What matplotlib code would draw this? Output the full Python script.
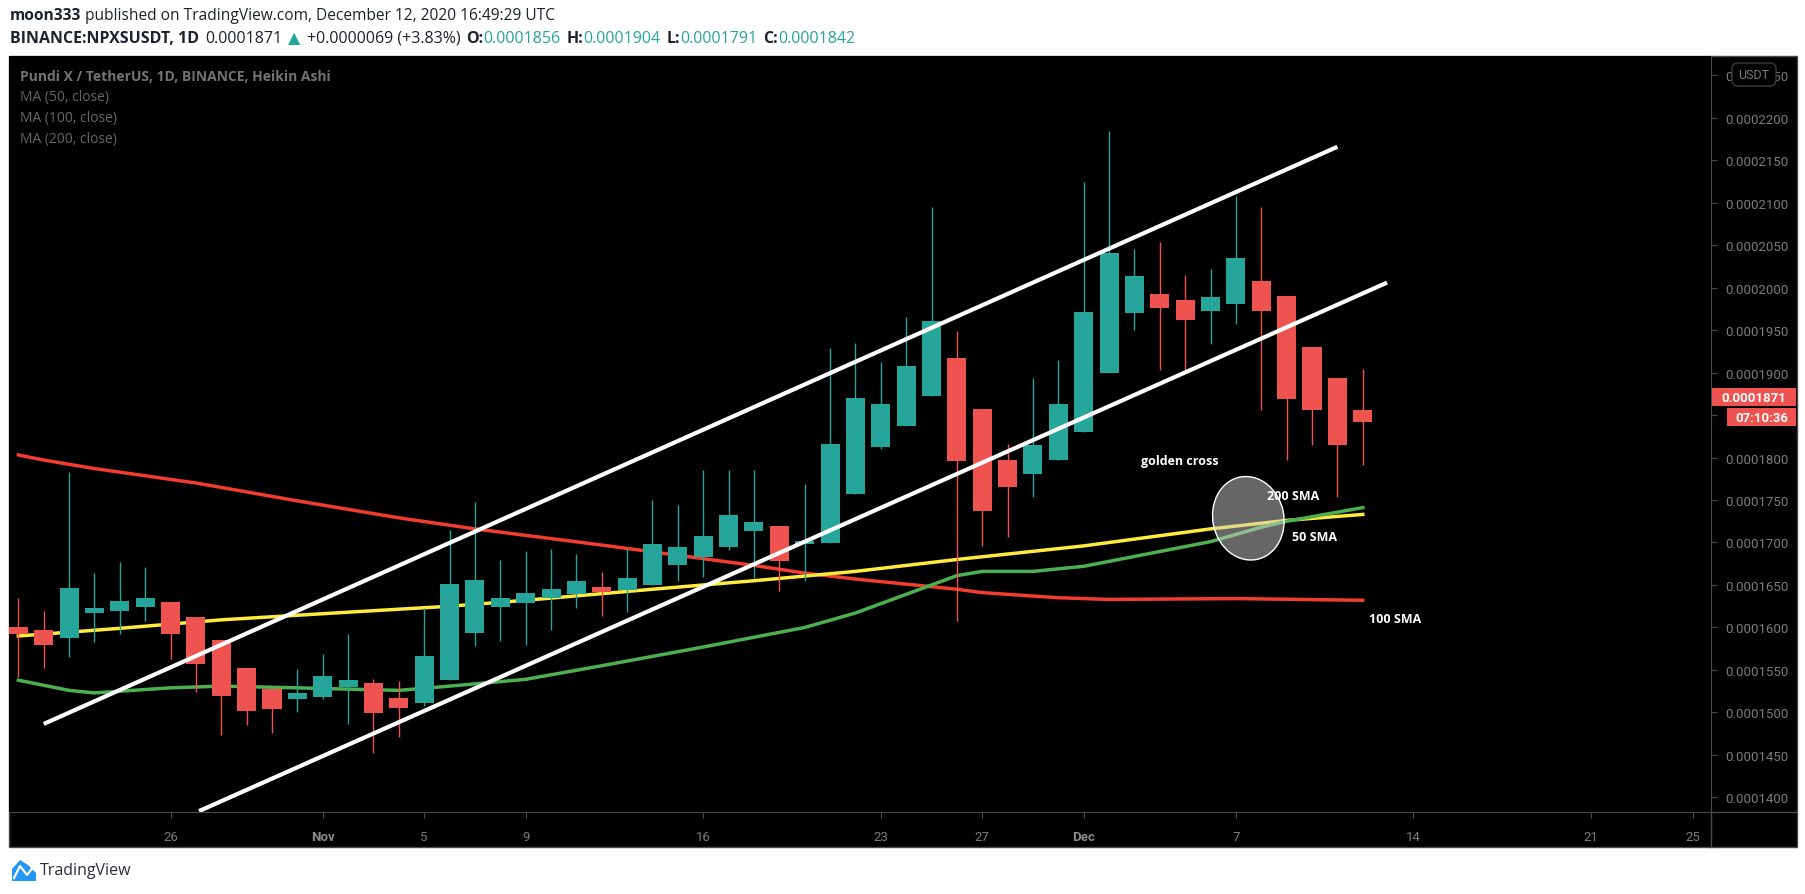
import numpy as np
import pandas as pd
import matplotlib
matplotlib.use('Agg')
import matplotlib.pyplot as plt
import matplotlib.dates as mdates
from matplotlib.patches import Rectangle, Ellipse, FancyBboxPatch, Polygon
from matplotlib.transforms import IdentityTransform, ScaledTranslation
from matplotlib.lines import Line2D

# prices are in units of 1e-7 USDT
SCALE = 1e-7

dates = pd.date_range('2020-10-20', '2020-12-12', freq='D')
opens = [1600.6, 1597.0, 1588.0, 1617.4, 1619.8, 1624.5, 1630.0, 1612.3, 1585.3, 1552.3, 1528.0, 1516.3,
         1518.6, 1530.4, 1534.7, 1517.0, 1511.6, 1538.6, 1593.9, 1624.5, 1629.2, 1634.7, 1639.8, 1647.6,
         1644.1, 1650.4, 1673.9, 1683.3, 1695.1, 1713.9, 1719.4, 1698.6, 1699.8, 1757.4, 1812.7, 1837.4,
         1872.7, 1917.0, 1857.0, 1797.0, 1781.0, 1797.4, 1830.4, 1899.7, 1970.3, 1992.3, 1985.2, 1972.7,
         1980.9, 2007.6, 1990.0, 1929.9, 1893.5, 1856.0]
highs = [1634.7, 1619.4, 1782.9, 1664.1, 1677.1, 1671.2, 1630.0, 1612.3, 1585.3, 1552.3, 1528.0, 1551.2,
         1568.8, 1592.3, 1539.4, 1537.0, 1622.9, 1714.7, 1747.6, 1679.4, 1690.0, 1692.3, 1686.5, 1665.3,
         1692.3, 1750.0, 1744.1, 1785.3, 1785.3, 1785.3, 1719.4, 1768.8, 1928.8, 1934.7, 1912.3, 1965.3,
         2094.7, 1948.8, 1857.0, 1815.9, 1893.5, 1914.7, 2124.1, 2184.1, 2045.2, 2053.5, 2014.7, 2021.7,
         2107.6, 2094.7, 1990.0, 1929.9, 1893.5, 1904.0]
lows = [1542.1, 1552.7, 1565.7, 1583.3, 1592.7, 1608.0, 1563.3, 1524.5, 1473.9, 1485.7, 1476.3, 1501.0,
        1516.3, 1486.8, 1452.7, 1471.6, 1508.0, 1538.6, 1578.6, 1584.5, 1579.8, 1597.4, 1623.3, 1613.9,
        1618.6, 1650.4, 1655.1, 1659.8, 1691.6, 1658.2, 1643.3, 1655.1, 1699.8, 1757.4, 1810.4, 1837.4,
        1872.7, 1608.0, 1696.2, 1706.8, 1753.9, 1797.4, 1830.4, 1899.7, 1950.3, 1903.3, 1902.9, 1933.9,
        1957.4, 1856.2, 1797.4, 1815.0, 1753.9, 1791.0]
closes = [1592.7, 1579.8, 1646.5, 1622.9, 1631.2, 1634.7, 1592.7, 1557.4, 1519.8, 1502.1, 1504.5, 1522.9,
          1542.9, 1538.2, 1499.8, 1505.7, 1566.5, 1651.2, 1655.9, 1634.7, 1640.6, 1645.3, 1654.7, 1642.1,
          1658.2, 1698.2, 1694.7, 1707.6, 1732.3, 1724.1, 1678.6, 1701.8, 1815.9, 1870.0, 1862.9, 1907.6,
          1960.6, 1796.2, 1737.4, 1765.6, 1814.7, 1862.9, 1971.2, 2040.5, 2013.5, 1976.2, 1962.1, 1988.8,
          2034.7, 1972.7, 1869.2, 1856.2, 1815.0, 1842.0]

# moving averages
ma100_dates = ['2020-10-20', '2020-10-21', '2020-10-23', '2020-10-27', '2020-10-31', '2020-11-04',
               '2020-11-07', '2020-11-12', '2020-11-14', '2020-11-18', '2020-11-20', '2020-11-22',
               '2020-11-26', '2020-11-27', '2020-11-30', '2020-12-02', '2020-12-07', '2020-12-12']
ma100 = [1803, 1797, 1787, 1770, 1749, 1729, 1716, 1697, 1689, 1673, 1664, 1657, 1645, 1641, 1635,
         1633, 1634, 1632]
ma200_dates = ['2020-10-20', '2020-10-24', '2020-10-28', '2020-11-02', '2020-11-06', '2020-11-09',
               '2020-11-14', '2020-11-18', '2020-11-22', '2020-11-26', '2020-12-01', '2020-12-06',
               '2020-12-09', '2020-12-12']
ma200 = [1590, 1599, 1609, 1618, 1625, 1632, 1645, 1655, 1666, 1680, 1696, 1716, 1726, 1733]
ma50_dates = ['2020-10-20', '2020-10-21', '2020-10-22', '2020-10-23', '2020-10-26', '2020-10-28',
              '2020-10-31', '2020-11-04', '2020-11-06', '2020-11-09', '2020-11-12', '2020-11-16',
              '2020-11-20', '2020-11-22', '2020-11-24', '2020-11-26', '2020-11-27', '2020-11-29',
              '2020-12-01', '2020-12-06', '2020-12-08', '2020-12-09', '2020-12-12']
ma50 = [1538, 1532, 1526, 1523, 1529, 1531, 1529, 1526, 1531, 1539, 1555, 1577, 1600, 1617, 1639,
        1661, 1666, 1666, 1672, 1701, 1718, 1725, 1741]

# channel lines drawn by the author
upper_line = (['2020-10-21 00:00', '2020-12-11 00:00'], [1486.5, 2165.6])
lower_line = (['2020-10-27 03:00', '2020-12-12 23:00'], [1384.0, 2005.8])

tick_dates = ['2020-10-26', '2020-11-01', '2020-11-05', '2020-11-09', '2020-11-16', '2020-11-23',
              '2020-11-27', '2020-12-01', '2020-12-07', '2020-12-14', '2020-12-21', '2020-12-25']
tick_labels = ['26', 'Nov', '5', '9', '16', '23', '27', 'Dec', '7', '14', '21', '25']
price_ticks = np.arange(1400, 2251, 50)
last_price = 1871

W, H = 1805, 895
fig = plt.figure(figsize=(W / 100, H / 100), dpi=100)
fig.patch.set_facecolor('white')
PX = IdentityTransform()

GREEN = '#26a69a'
RED = '#ef5350'
GRID = '#4a4a4a'
LABEL = '#7b7b7b'

# black chart frame
fig.add_artist(Rectangle((8.5, H - 848), 1796.5 - 8.5, 848 - 57, transform=PX,
                         facecolor='black', edgecolor=GRID, lw=1, zorder=-1))

ax = fig.add_axes([9 / W, (H - 813) / H, (1711 - 9) / W, (813 - 57) / H])
ax.set_facecolor('black')
for s in ['top', 'left']:
    ax.spines[s].set_visible(False)
ax.spines['right'].set_color(GRID)
ax.spines['bottom'].set_color(GRID)
fig.add_artist(Line2D([1711, 1796], [H - 813, H - 813], transform=PX, color=GRID, lw=1))
fig.add_artist(Line2D([1711, 1711], [H - 813, H - 848], transform=PX, color=GRID, lw=1))

dn = mdates.date2num(dates)
o = np.array(opens) * SCALE
c = np.array(closes) * SCALE
hi = np.array(highs) * SCALE
lo = np.array(lows) * SCALE
cols = [GREEN if cc >= oo else RED for oo, cc in zip(o, c)]

ax.vlines(dn, lo, hi, colors=cols, lw=1, zorder=2)
ax.bar(dn, np.abs(c - o), bottom=np.minimum(o, c), width=0.75, color=cols, zorder=3)

ax.plot(mdates.date2num(pd.to_datetime(ma100_dates)), np.array(ma100) * SCALE, color='#f23c30', lw=2.5, zorder=1.5)
ax.plot(mdates.date2num(pd.to_datetime(ma200_dates)), np.array(ma200) * SCALE, color='#ffeb3b', lw=2.5, zorder=1.5)
ax.plot(mdates.date2num(pd.to_datetime(ma50_dates)), np.array(ma50) * SCALE, color='#4caf50', lw=2.5, zorder=1.6)

for xs, ys in [upper_line, lower_line]:
    ax.plot(mdates.date2num(pd.to_datetime(xs)), np.array(ys) * SCALE, color='white', lw=3,
            solid_capstyle='butt', zorder=4)

# golden cross ellipse, sized in pixels around a data point
ex, ey = mdates.date2num(pd.Timestamp('2020-12-07 11:45')), 1728.5 * SCALE
etr = fig.dpi_scale_trans + ScaledTranslation(ex, ey, ax.transData)
ax.add_patch(Ellipse((0, 0), 0.71, 0.84, angle=12, transform=etr, facecolor='#cccccc',
                     alpha=0.5, edgecolor='none', zorder=5))
ax.add_patch(Ellipse((0, 0), 0.71, 0.84, angle=12, transform=etr, facecolor='none',
                     edgecolor='white', lw=1, zorder=5))

notes = [('golden cross', '2020-12-04 19:00', 1797), ('200 SMA', '2020-12-09 06:00', 1755),
         ('50 SMA', '2020-12-10 02:00', 1706.5), ('100 SMA', '2020-12-13 06:30', 1611)]
for txt, d, p in notes:
    ax.text(mdates.date2num(pd.Timestamp(d)), p * SCALE, txt, color='white', fontsize=9,
            fontweight='bold', family='Open Sans', ha='center', va='center', zorder=6)

x0 = mdates.date2num(pd.Timestamp('2020-10-19 15:10'))
x1 = mdates.date2num(pd.Timestamp('2020-12-25 17:30'))
ax.set_xlim(x0, x1)
ax.set_ylim(1382.9 * SCALE, 2272.4 * SCALE)

ax.yaxis.tick_right()
ax.set_yticks(price_ticks * SCALE)
ax.set_yticklabels(['%.7f' % (v * SCALE) for v in price_ticks])
ax.tick_params(axis='y', direction='out', length=4, pad=6, colors=GRID, labelcolor=LABEL,
               labelsize=9.5)
ax.set_xticks(mdates.date2num(pd.to_datetime(tick_dates)))
ax.set_xticklabels(tick_labels)
ax.tick_params(axis='x', direction='out', length=4, pad=9, colors=GRID, labelcolor=LABEL,
               labelsize=9.5)
for t in ax.get_xticklabels() + ax.get_yticklabels():
    t.set_family('Roboto')
for t in ax.get_xticklabels():
    if t.get_text() in ('Nov', 'Dec'):
        t.set_fontweight('bold')
        t.set_color('#8a8a8a')

# price axis badges
yp = ax.transData.transform((x0, last_price * SCALE))[1]
fig.add_artist(Rectangle((1712, yp - 9), 84, 18, transform=PX, facecolor=RED, edgecolor='none', zorder=4))
fig.text(1754, yp, '%.7f' % (last_price * SCALE), transform=PX, color='white', fontsize=9.5,
         fontweight='bold', family='Roboto', ha='center', va='center', zorder=5)
fig.add_artist(Rectangle((1727, yp - 29), 69, 18, transform=PX, facecolor=RED, edgecolor='none', zorder=4))
fig.text(1761.5, yp - 20, '07:10:36', transform=PX, color='white', fontsize=9.5,
         fontweight='bold', family='Roboto', ha='center', va='center', zorder=5)
fig.add_artist(FancyBboxPatch((1732, H - 87), 44, 23, boxstyle='round,pad=0,rounding_size=6',
                              transform=PX, facecolor='black', edgecolor='#3c3c3c', lw=1, zorder=4))
fig.text(1754, H - 75.5, 'USDT', transform=PX, color=LABEL, fontsize=9, family='Roboto',
         ha='center', va='center', zorder=5)

# legend in the pane
fig.text(20, H - 77, 'Pundi X / TetherUS, 1D, BINANCE, Heikin Ashi', transform=PX, color='#737373',
         fontsize=10, fontweight='bold', family='Open Sans', va='center')
for i, s in enumerate(['MA (50, close)', 'MA (100, close)', 'MA (200, close)']):
    fig.text(20, H - 98 - 20.7 * i, s, transform=PX, color='#666666', fontsize=10,
             family='Open Sans', va='center')

# header
renderer = fig.canvas.get_renderer()
FAM = ['Open Sans', 'DejaVu Sans']


def runs(x, y, parts, size, extra=0):
    probe = fig.text(0, 0, 'x x', fontsize=size, family=FAM, transform=PX)
    w2 = probe.get_window_extent(renderer).width
    probe.set_text('xx')
    sw = w2 - probe.get_window_extent(renderer).width + extra
    probe.remove()
    for s, color, weight, gap in parts:
        t = fig.text(x, y, s, transform=PX, fontsize=size, color=color, fontweight=weight,
                     family=FAM, va='center', ha='left')
        x = t.get_window_extent(renderer).x1 + gap * sw


DARK = '#1e222d'
runs(10, H - 16, [('moon333', DARK, 'bold', 1),
                  ('published on TradingView.com, December 12, 2020 16:49:29 UTC', DARK, 'normal', 0)], 11.2)
runs(10, H - 39, [('BINANCE:NPXSUSDT, 1D', DARK, 'bold', 1), ('0.0001871', DARK, 'normal', 1),
                  ('\u25b2', GREEN, 'normal', 1), ('+0.0000069 (+3.83%)', DARK, 'normal', 1),
                  ('O:', DARK, 'bold', 0), ('0.0001856', GREEN, 'normal', 1),
                  ('H:', DARK, 'bold', 0), ('0.0001904', GREEN, 'normal', 1),
                  ('L:', DARK, 'bold', 0), ('0.0001791', GREEN, 'normal', 1),
                  ('C:', DARK, 'bold', 0), ('0.0001842', GREEN, 'normal', 0)], 11.5, extra=2)

# TradingView logo
BLUE = '#2196f3'
fig.add_artist(Polygon([(12, H - 882), (12, H - 870), (20, H - 861), (28, H - 866), (36, H - 874),
                        (36, H - 882)], closed=True, transform=PX, facecolor=BLUE, edgecolor='none'))
fig.add_artist(Line2D([14, 20, 27, 34], [H - 879, H - 867, H - 876, H - 867], transform=PX,
                      color='white', lw=1.6))
fig.text(40, H - 871, 'TradingView', transform=PX, color='#2a2e39', fontsize=11.5,
         family='Open Sans', va='center')

fig.savefig('out.png', dpi=100, facecolor='white')
